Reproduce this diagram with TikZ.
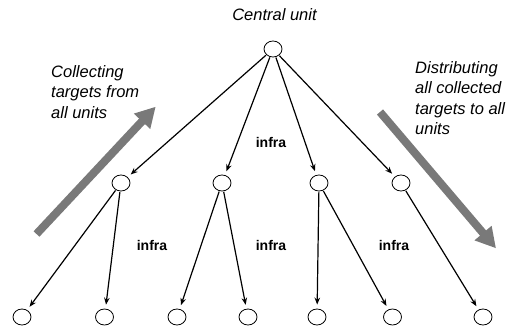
\documentclass[tikz,border=0pt]{standalone}
\usepackage{fontspec}
\setmainfont{Liberation Sans}
\usetikzlibrary{arrows.meta,shapes.geometric}
\begin{document}
\begin{tikzpicture}[x=1pt,y=-1pt,
  unit/.style={draw,ellipse,minimum width=18pt,minimum height=16pt,inner sep=0pt,line width=0.8pt},
  link/.style={line width=1.2pt,-{Stealth[length=7pt,width=5.5pt]},shorten >=4pt,shorten <=0.5pt},
  flow/.style={draw=gray!95!black,line width=8pt,-{Triangle[length=20pt,width=21pt]},color=gray!95!black},
  caption/.style={font=\fontsize{16.5}{20.5}\selectfont\itshape,inner sep=0pt,align=left},
  infralabel/.style={font=\fontsize{14}{16}\selectfont\bfseries,inner sep=0pt}]
\useasboundingbox (0,0) rectangle (516,329);
\node[unit] (c) at (273,49) {};
\node[unit] (a1) at (121,183) {};
\node[unit] (a2) at (222,183) {};
\node[unit] (a3) at (319,183) {};
\node[unit] (a4) at (401,183) {};
\node[unit] (l1) at (22,317) {};
\node[unit] (l2) at (104.5,317) {};
\node[unit] (l3) at (177,317) {};
\node[unit] (l4) at (248,317) {};
\node[unit] (l5) at (317,317) {};
\node[unit] (l6) at (392.5,317) {};
\node[unit] (l7) at (483,317) {};
\node[caption,anchor=base] (ct) at (274.5,21) {Central unit};
\node[caption,anchor=base west] (lt) at (51,118) {Collecting\\targets from\\all units};
\node[caption,anchor=base west] (rt) at (415,134.5) {Distributing\\all collected\\targets to all\\units};
\node[infralabel] (i0) at (271,142.5) {infra};
\node[infralabel] (i1) at (152,245.5) {infra};
\node[infralabel] (i2) at (271,245.5) {infra};
\node[infralabel] (i3) at (394,245.5) {infra};
\foreach \t in {a1,a2,a3,a4} \draw[link] (c) -- (\t);
\draw[link] (a1) -- (l1);
\draw[link] (a1) -- (l2);
\draw[link] (a2) -- (l3);
\draw[link] (a2) -- (l4);
\draw[link] (a3) -- (l5);
\draw[link] (a3) -- (l6);
\draw[link] (a4) -- (l7);
\coordinate (ls) at (36.5,234);
\coordinate (le) at (155.7,106.7);
\coordinate (rs) at (380,112);
\coordinate (re) at (496,248.3);
\draw[flow] (ls) -- (le);
\draw[flow] (rs) -- (re);
\end{tikzpicture}
\end{document}
